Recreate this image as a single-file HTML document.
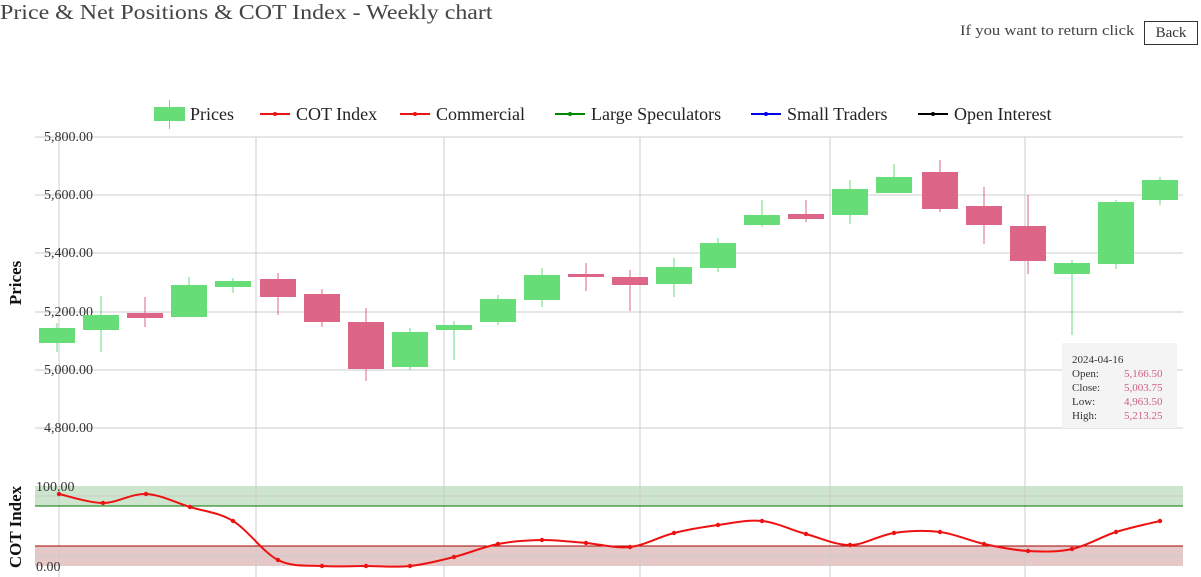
<!DOCTYPE html>
<html><head><meta charset="utf-8"><style>
body{margin:0;width:1201px;height:577px;overflow:hidden;background:#fff;font-family:"Liberation Serif",serif;color:#333}
.t{position:absolute;white-space:nowrap;transform-origin:0 0}
</style></head><body>
<div class="t" style="left:0;top:0px;font-size:21px;color:#444;transform:scaleX(1.14)">Price &amp; Net Positions &amp; COT Index - Weekly chart</div>
<div class="t" style="left:960px;top:23px;font-size:15px;color:#444;transform:scaleX(1.11)">If you want to return click</div>
<div class="t" style="left:1144px;top:21px;width:52px;height:22px;border:1px solid #333;font-size:15px;text-align:center;line-height:22px">Back</div>
<svg id="s" width="1201" height="577" style="position:absolute;left:0;top:0" font-family="Liberation Serif, serif"></svg>
<script>
var s=document.getElementById('s'),h='';
h+='<rect x="35" y="486" width="1148" height="20" fill="#cce5cc"/><rect x="35" y="546" width="1148" height="20" fill="#e5c8c8"/>';
[137,195,253,312,370,428,496,556].forEach(function(y){h+='<line x1="35" x2="1183" y1="'+y+'" y2="'+y+'" stroke="#ccc"/>'});
[59,256,444,640,830,1025].forEach(function(x){h+='<line x1="'+x+'" x2="'+x+'" y1="137" y2="577" stroke="#ccc"/>'});
h+='<line x1="35" x2="1183" y1="506" y2="506" stroke="#070"/><line x1="35" x2="1183" y1="546" y2="546" stroke="#a00"/>';
var lab=[[137,'5,800.00'],[195,'5,600.00'],[253,'5,400.00'],[312,'5,200.00'],[370,'5,000.00'],[428,'4,800.00']];
lab.forEach(function(l){h+='<text x="93" y="'+(l[0]+4)+'" font-size="14" text-anchor="end" fill="#333">'+l[1]+'</text>'});
h+='<text x="36" y="491" font-size="14" fill="#333">100.00</text><text x="36" y="571" font-size="14" fill="#333">0.00</text>';
h+='<text transform="translate(21,283) rotate(-90)" font-size="17" font-weight="bold" text-anchor="middle" fill="#111">Prices</text>';
h+='<text transform="translate(21,527) rotate(-90)" font-size="17" font-weight="bold" text-anchor="middle" fill="#111">COT Index</text>';
var c=[[57,328,343,323,352,1],[101,315,330,296,352,1],[145,313,318,297,327,0],[189,285,317,277,317,1],[233,281,287,278,293,1],[278,279,297,273,315,0],[322,294,322,289,327,0],[366,322,369,308,381,0],[410,332,367,328,370,1],[454,325,330,321,360,1],[498,299,322,295,325,1],[542,275,300,268,307,1],[586,274,277,263,291,0],[630,277,285,270,311,0],[674,267,284,258,297,1],[718,243,268,238,272,1],[762,215,225,200,227,1],[806,214,219,200,222,0],[850,189,215,180,224,1],[894,177,193,164,193,1],[940,172,209,160,212,0],[984,206,225,187,244,0],[1028,226,261,195,274,0],[1072,263,274,260,335,1],[1116,202,264,200,269,1],[1160,180,200,177,205,1]];
c.forEach(function(k){var col=k[5]?'#66dd77':'#dd6688';h+='<line x1="'+k[0]+'" x2="'+k[0]+'" y1="'+k[3]+'" y2="'+k[4]+'" stroke="'+col+'"/><rect x="'+(k[0]-18)+'" y="'+k[1]+'" width="36" height="'+(k[2]-k[1])+'" fill="'+col+'"/>'});
var p=[[59,494],[103,503],[146,494],[190,507],[233,521],[278,560],[322,566],[366,566],[410,566],[454,557],[498,544],[542,540],[586,543],[630,547],[674,533],[718,525],[762,521],[806,534],[850,545],[894,533],[940,532],[984,544],[1028,551],[1072,549],[1116,532],[1160,521]];
var d='M'+p[0];
for(var i=0;i<p.length-1;i++){var a=p[i-1]||p[i],b=p[i],e=p[i+1],f=p[i+2]||e;
d+=' C'+(b[0]+(e[0]-a[0])/6)+','+(b[1]+(e[1]-a[1])/6)+' '+(e[0]-(f[0]-b[0])/6)+','+(e[1]-(f[1]-b[1])/6)+' '+e[0]+','+e[1];}
h+='<path d="'+d+'" fill="none" stroke="#e11" stroke-width="2"/>';
p.forEach(function(q){h+='<circle cx="'+q[0]+'" cy="'+q[1]+'" r="2.2" fill="#e11"/>'});
h+='<rect x="154" y="107" width="31" height="14" fill="#66dd77"/><line x1="169.5" x2="169.5" y1="100" y2="129" stroke="#66dd77"/><text x="190" y="120" font-size="18" fill="#222">Prices</text>';
[[260,'#e11','COT Index'],[400,'#e11','Commercial'],[555,'#080','Large Speculators'],[751,'#00e','Small Traders'],[918,'#000','Open Interest']].forEach(function(l){
h+='<line x1="'+l[0]+'" x2="'+(l[0]+30)+'" y1="114" y2="114" stroke="'+l[1]+'" stroke-width="2"/><circle cx="'+(l[0]+15)+'" cy="114" r="2" fill="'+l[1]+'"/><text x="'+(l[0]+36)+'" y="120" font-size="18" fill="#222">'+l[2]+'</text>'});
h+='<rect x="1062" y="343" width="115" height="85" fill="#f4f4f4"/>';
h+='<text x="1072" y="363" font-size="11" fill="#333">2024-04-16</text>';
[['Open:','5,166.50'],['Close:','5,003.75'],['Low:','4,963.50'],['High:','5,213.25']].forEach(function(r,i){var y=377+i*14;
h+='<text x="1072" y="'+y+'" font-size="11" fill="#333">'+r[0]+'</text><text x="1124" y="'+y+'" font-size="11" fill="#d06080">'+r[1]+'</text>'});
s.innerHTML=h;
</script>
</body></html>
